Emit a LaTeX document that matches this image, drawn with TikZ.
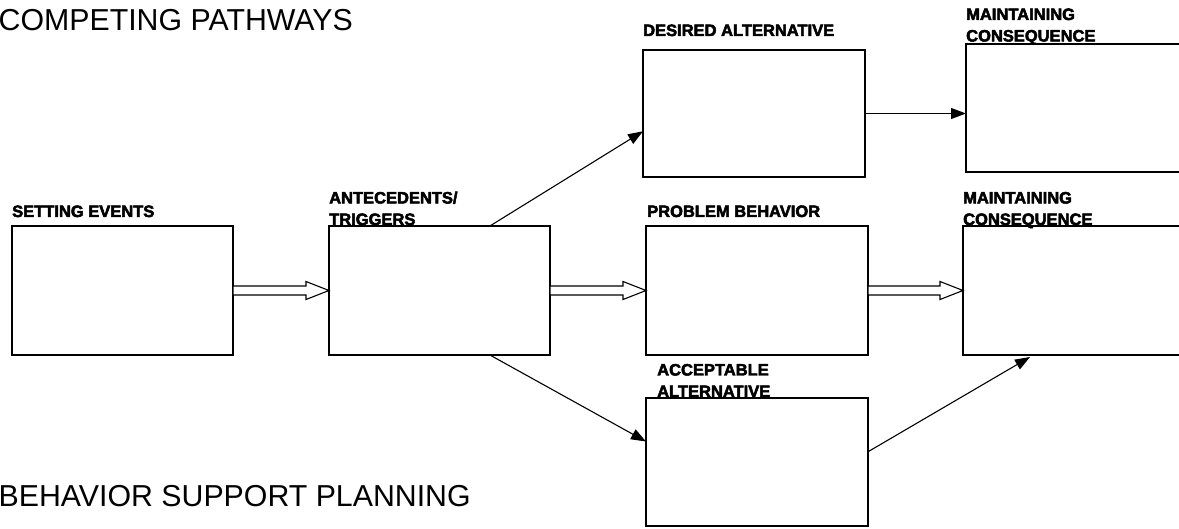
\documentclass[tikz,border=0pt]{standalone}
\usepackage{fontspec}
\setmainfont{Liberation Sans}
\newfontfamily\lblfont[FakeBold=3]{Liberation Sans Bold}
\usetikzlibrary{arrows.meta,calc}
\tikzset{
  box/.style={draw=black, line width=1.2pt, rectangle, inner sep=0pt, outer sep=0pt, anchor=north west},
  lbl/.style={anchor=base west, inner sep=0pt, font=\lblfont\fontsize{16.5}{21.5}\selectfont, align=left},
  ttl/.style={anchor=base west, inner sep=0pt, font=\fontsize{30.3}{34}\selectfont},
  conn/.style={line width=1.1pt, -{Triangle[length=15pt,width=11pt]}},
  fat/.style={draw=black, line width=1.1pt, fill=white, line join=miter},
}
\begin{document}
\begin{tikzpicture}[x=1pt,y=-1pt]
\clip (0,0) rectangle (1179,529);
\fill[white] (0,0) rectangle (1179,529);
% titles
\node[ttl] (t1) at (-1.5,31) {COMPETING PATHWAYS};
\node[ttl] (t2) at (-1.5,506.5) {BEHAVIOR SUPPORT PLANNING};
% boxes
\node[box, minimum width=221pt, minimum height=129pt] (se) at (12,226) {};
\node[box, minimum width=221pt, minimum height=129pt] (ant) at (329,226) {};
\node[box, minimum width=222pt, minimum height=127pt] (des) at (643,50) {};
\node[box, minimum width=240pt, minimum height=128pt] (mc1) at (966,44) {};
\node[box, minimum width=222pt, minimum height=129pt] (pb) at (646,226) {};
\node[box, minimum width=240pt, minimum height=129pt] (mc2) at (963,226) {};
\node[box, minimum width=222pt, minimum height=128pt] (acc) at (646,398) {};
% labels (multi-line labels are placed by the baseline of their last line)
\node[lbl] (lse) at (12,217) {SETTING EVENTS};
\node[lbl] (lant) at (329,225) {ANTECEDENTS/\\TRIGGERS};
\node[lbl] (ldes) at (643,36) {DESIRED ALTERNATIVE};
\node[lbl] (lmc1) at (966,41.5) {MAINTAINING\\CONSEQUENCE};
\node[lbl] (lpb) at (647,217) {PROBLEM BEHAVIOR};
\node[lbl] (lmc2) at (963,225) {MAINTAINING\\CONSEQUENCE};
\node[lbl] (lacc) at (657,397) {ACCEPTABLE\\ALTERNATIVE};
% hollow arrows
\foreach \a/\b in {se/ant, ant/pb, pb/mc2}{
  \draw[fat] ($(\a.east)+(0,-4.5)$) -- ($(\b.west)+(-23,-4.5)$) -- ($(\b.west)+(-23,-9)$)
    -- (\b.west) -- ($(\b.west)+(-23,9)$) -- ($(\b.west)+(-23,4.5)$) -- ($(\a.east)+(0,4.5)$) -- cycle;
}
% thin arrows
\draw[conn] ($(ant.north west)!0.728!(ant.north east)$) -- ($(des.north west)!0.64!(des.south west)$);
\draw[conn] ($(ant.south west)!0.728!(ant.south east)$) -- ($(acc.north west)!0.34!(acc.south west)$);
\draw[conn] (des.east) -- (des.east -| mc1.west);
\draw[conn] ($(acc.north east)!0.42!(acc.south east)$) -- ($(mc2.south west)+(67,2)$);
\end{tikzpicture}
\end{document}
